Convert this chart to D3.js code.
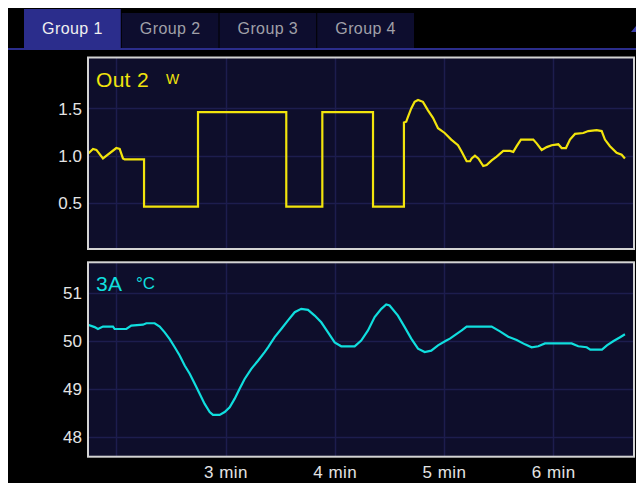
<!DOCTYPE html>
<html><head><meta charset="utf-8">
<script src="https://cdn.jsdelivr.net/npm/d3@7"></script>
<style>
html,body{margin:0;padding:0;background:#fff;}
svg{display:block;}
text{font-family:"Liberation Sans",Arial,sans-serif;}
</style></head>
<body>
<svg id="c" width="639" height="485"></svg>
<script>
// ---- data ----
const tabs = ["Group 1", "Group 2", "Group 3", "Group 4"];
const activeTab = 0;

const out2Label = "Out 2", out2Unit = "W";
const out2Ticks = [0.5, 1.0, 1.5];
const out2Time = [1.741,1.787,1.818,1.878,2.0,2.031,2.061,2.077,2.254,2.254,2.748,2.748,3.556,3.556,3.886,3.886,4.350,4.350,4.633,4.633,4.654,4.670,4.700,4.731,4.762,4.807,4.853,4.899,4.945,5.006,5.066,5.128,5.162,5.207,5.238,5.253,5.283,5.314,5.359,5.390,5.436,5.482,5.542,5.604,5.634,5.665,5.704,5.817,5.848,5.894,5.940,5.985,6.046,6.077,6.116,6.153,6.199,6.275,6.320,6.397,6.443,6.473,6.519,6.580,6.626,6.656];
const out2Value = [1.02,1.07,1.06,0.97,1.08,1.07,0.97,0.96,0.96,0.46,0.46,1.46,1.46,0.46,0.46,1.46,1.46,0.46,0.46,1.35,1.36,1.41,1.50,1.57,1.59,1.57,1.48,1.40,1.29,1.24,1.17,1.11,1.04,0.94,0.94,0.97,1.00,0.97,0.89,0.90,0.95,0.99,1.05,1.05,1.04,1.10,1.17,1.17,1.13,1.06,1.09,1.11,1.12,1.08,1.08,1.17,1.23,1.24,1.26,1.27,1.26,1.17,1.10,1.03,1.01,0.97];

const t3aLabel = "3A", t3aUnit = "°C";
const t3aTicks = [48, 49, 50, 51];
const t3aTime = [1.741,1.802,1.832,1.878,1.970,1.985,2.092,2.137,2.244,2.275,2.351,2.397,2.443,2.489,2.535,2.580,2.626,2.672,2.718,2.763,2.809,2.855,2.885,2.946,2.992,3.038,3.084,3.130,3.175,3.236,3.297,3.358,3.389,3.450,3.510,3.572,3.633,3.693,3.755,3.816,3.876,3.938,3.999,4.059,4.182,4.242,4.304,4.365,4.426,4.471,4.502,4.578,4.640,4.700,4.762,4.823,4.883,4.945,5.021,5.054,5.116,5.162,5.207,5.436,5.512,5.588,5.665,5.741,5.802,5.863,5.924,6.168,6.229,6.306,6.339,6.446,6.491,6.552,6.612,6.656];
const t3aValue = [50.33,50.28,50.24,50.29,50.29,50.24,50.24,50.31,50.33,50.36,50.36,50.29,50.17,50.03,49.86,49.69,49.48,49.31,49.10,48.89,48.68,48.51,48.45,48.45,48.51,48.61,48.79,49.00,49.20,49.41,49.58,49.76,49.86,50.07,50.24,50.42,50.59,50.66,50.64,50.52,50.38,50.17,49.96,49.88,49.88,50.00,50.21,50.49,50.66,50.75,50.73,50.52,50.28,50.04,49.83,49.76,49.79,49.90,50.00,50.04,50.14,50.21,50.29,50.29,50.19,50.08,50.01,49.92,49.86,49.88,49.94,49.94,49.88,49.86,49.81,49.81,49.90,49.99,50.07,50.13];

const minuteTicks = [3, 4, 5, 6];
const minuteGrid = [2, 3, 4, 5, 6];

// ---- drawing ----
const svg = d3.select("#c");
svg.append("rect").attr("x",8).attr("y",8).attr("width",628).attr("height",475).attr("fill","#000");

// tabs
const tabX = d3.scaleBand().domain(tabs).range([24, 414]).paddingInner(0.01);
const tg = svg.selectAll("g.tab").data(tabs).join("g").attr("class","tab");
tg.append("rect")
  .attr("x", d => tabX(d)).attr("width", tabX.bandwidth())
  .attr("y", (d,i) => i===activeTab ? 9 : 13)
  .attr("height", (d,i) => i===activeTab ? 40 : 36)
  .attr("fill", (d,i) => i===activeTab ? "#2b2d8c" : "#0d0d2e");
tg.append("text")
  .attr("x", d => tabX(d) + tabX.bandwidth()/2).attr("y", 34)
  .attr("text-anchor","middle").attr("font-size",16).attr("letter-spacing",0.4)
  .attr("fill", (d,i) => i===activeTab ? "#f0f0f0" : "#a0a0a8")
  .text(d => d);
svg.append("rect").attr("x",8).attr("y",48).attr("width",628).attr("height",2).attr("fill","#2b2d8c");
svg.append("path").attr("d","M631,32 L636,32 L636,26 Z").attr("fill","#3a3ca8");

const x = d3.scaleLinear().domain([1.741, 6.739]).range([88, 634]);

function panel(top, bottom, yDomain, ticks, times, values, color, label, unit, unitDx, unitSize) {
  const y = d3.scaleLinear().domain(yDomain).range([bottom, top]);
  const g = svg.append("g");
  g.append("rect").attr("x",88).attr("y",top).attr("width",546).attr("height",bottom-top).attr("fill","#0e0e2b");
  g.selectAll("line.vg").data(minuteGrid).join("line")
    .attr("x1", d => Math.round(x(d))+0.5).attr("x2", d => Math.round(x(d))+0.5)
    .attr("y1", top).attr("y2", bottom).attr("stroke","#1d1d4e").attr("stroke-width",1.5);
  g.selectAll("line.hg").data(ticks).join("line")
    .attr("y1", d => Math.round(y(d))+0.5).attr("y2", d => Math.round(y(d))+0.5)
    .attr("x1", 88).attr("x2", 634).attr("stroke","#1d1d4e").attr("stroke-width",1.5);
  const ax = g.append("g").attr("transform","translate(82,0)")
    .call(d3.axisLeft(y).tickValues(ticks).tickSize(0).tickPadding(0)
      .tickFormat(d => yDomain[1] < 10 ? d3.format(".1f")(d) : d3.format("d")(d)));
  ax.select(".domain").remove();
  ax.selectAll("text").attr("fill","#e4e4e4").attr("font-size",17)
    .attr("font-family","'Liberation Sans',Arial,sans-serif").attr("dy","0.35em");
  const line = d3.line().x((d,i) => x(times[i])).y(d => y(d));
  g.append("path").datum(values).attr("d", line).attr("fill","none")
    .attr("stroke", color).attr("stroke-width", 2.2).attr("stroke-linejoin","miter");
  g.append("rect").attr("x",88).attr("y",top).attr("width",546).attr("height",bottom-top)
    .attr("fill","none").attr("stroke","#d4d4d4").attr("stroke-width",2);
  g.append("text").attr("x",96).attr("y",top+29).attr("fill",color).attr("font-size",21).attr("letter-spacing",0.3).text(label);
  g.append("text").attr("x",96+unitDx).attr("y",top+26.5).attr("fill",color).attr("font-size",unitSize).text(unit);
  return y;
}

panel(57.5, 249, [0.01, 2.04], out2Ticks, out2Time, out2Value, "#f2e40c", out2Label, out2Unit, 70, 14);
panel(262.3, 456.7, [47.58, 51.63], t3aTicks, t3aTime, t3aValue, "#10dede", t3aLabel, t3aUnit, 40, 17);

const xa = svg.append("g").attr("transform","translate(0,478)")
  .call(d3.axisBottom(x).tickValues(minuteTicks).tickSize(0).tickPadding(0).tickFormat(d => d + " min"));
xa.select(".domain").remove();
xa.selectAll("text").attr("fill","#e4e4e4").attr("font-size",17).attr("letter-spacing",0.5)
  .attr("font-family","'Liberation Sans',Arial,sans-serif").attr("dy","0");
</script>
</body></html>
